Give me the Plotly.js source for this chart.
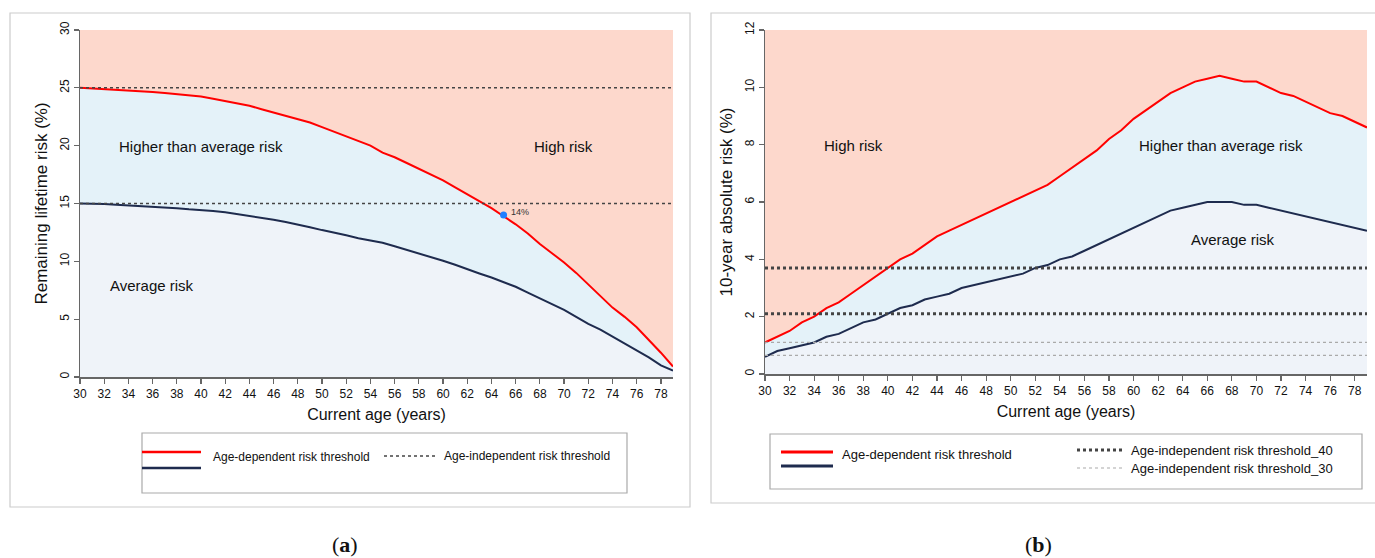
<!DOCTYPE html>
<html>
<head>
<meta charset="utf-8">
<script src="https://cdn.plot.ly/plotly-3.0.1.min.js"></script>
<style>html,body{margin:0;padding:0;background:#fff;}#chart{width:1375px;height:558px;}</style>
</head>
<body>
<div id="chart"></div>
<script>
// ---------- data ----------
const ages = [30,31,32,33,34,35,36,37,38,39,40,41,42,43,44,45,46,47,48,49,50,51,52,53,54,55,56,57,58,59,60,61,62,63,64,65,66,67,68,69,70,71,72,73,74,75,76,77,78,79];

// (a) remaining lifetime risk (%)
const lifetimeHigh = [25.0,24.95,24.9,24.85,24.8,24.7,24.65,24.55,24.45,24.35,
  24.25,24.05,23.85,23.65,23.45,23.15,22.85,22.55,22.3,22.0,
  21.6,21.2,20.8,20.4,20.0,19.4,19.0,18.5,18.0,17.5,
  17.0,16.4,15.8,15.2,14.6,13.9,13.2,12.4,11.5,10.7,
  9.9,9.0,8.0,7.0,6.0,5.2,4.3,3.2,2.1,0.9];
const lifetimeAvg = [15.0,15.0,14.95,14.9,14.85,14.8,14.75,14.7,14.6,14.5,
  14.45,14.35,14.25,14.1,13.95,13.8,13.6,13.4,13.2,12.95,
  12.7,12.5,12.25,12.0,11.8,11.6,11.3,11.0,10.7,10.35,
  10.05,9.7,9.3,8.95,8.6,8.2,7.8,7.3,6.8,6.3,
  5.8,5.2,4.6,4.1,3.5,2.9,2.3,1.7,1.0,0.55];
const lifetimeThresholds = [25, 15];
const markerAge = [65];
const markerRisk = [14];
const markerLabel = ['14%'];

// (b) 10-year absolute risk (%)
const tenYearHigh = [1.1,1.3,1.5,1.8,2.0,2.3,2.5,2.8,3.1,3.4,
  3.7,4.0,4.2,4.5,4.8,5.0,5.2,5.4,5.6,5.8,
  6.0,6.2,6.4,6.6,6.9,7.2,7.5,7.8,8.2,8.5,
  8.9,9.2,9.5,9.8,10.0,10.2,10.3,10.4,10.3,10.2,
  10.2,10.0,9.8,9.7,9.5,9.3,9.1,9.0,8.8,8.6];
const tenYearAvg = [0.6,0.8,0.9,1.0,1.1,1.3,1.4,1.6,1.8,1.9,
  2.1,2.3,2.4,2.6,2.7,2.8,3.0,3.1,3.2,3.3,
  3.4,3.5,3.7,3.8,4.0,4.1,4.3,4.5,4.7,4.9,
  5.1,5.3,5.5,5.7,5.8,5.9,6.0,6.0,6.0,5.9,
  5.9,5.8,5.7,5.6,5.5,5.4,5.3,5.2,5.1,5.0];
const tenYearThresholds40 = [3.7, 2.1];
const tenYearThresholds30 = [1.1, 0.65];

// ticks
const ageTicks = [30,32,34,36,38,40,42,44,46,48,50,52,54,56,58,60,62,64,66,68,70,72,74,76,78];
const lifetimeTicks = [0,5,10,15,20,25,30];
const tenYearTicks = [0,2,4,6,8,10,12];

// labels
const regionLabels = ['High risk', 'Higher than average risk', 'Average risk'];
const legendLabels = ['Age-dependent risk threshold', 'Age-independent risk threshold',
  'Age-independent risk threshold_40', 'Age-independent risk threshold_30'];
const axisTitles = {x: 'Current age (years)', yA: 'Remaining lifetime risk (%)', yB: '10-year absolute risk (%)'};

// ---------- style ----------
const W = 1375, H = 558;
const C = {
  salmon: 'rgb(253,216,204)', blue: 'rgb(228,242,249)', base: 'rgb(239,243,249)',
  red: '#ff0000', navy: '#1e2b4e', dark: '#444444', grey: '#aaaaaa', axis: '#666666'
};
const FONT = 'Liberation Sans, Arial, Helvetica, sans-serif';
const px = x => x / W;
const py = y => 1 - y / H;

function lineTrace(x, y, color, xa, ya) {
  return {x, y, xaxis: xa, yaxis: ya, mode: 'lines', type: 'scatter',
    line: {color, width: 2}, hoverinfo: 'skip', showlegend: false};
}
function fillTrace(x, y, fill, fillcolor, xa, ya) {
  return {x, y, xaxis: xa, yaxis: ya, mode: 'lines', type: 'scatter', fill, fillcolor,
    line: {width: 0}, hoverinfo: 'skip', showlegend: false};
}

const traces = [
  fillTrace(ages, lifetimeAvg, 'tozeroy', C.base, 'x', 'y'),
  fillTrace(ages, lifetimeHigh, 'tonexty', C.blue, 'x', 'y'),
  fillTrace(ages, tenYearAvg, 'tozeroy', C.base, 'x2', 'y2'),
  fillTrace(ages, tenYearHigh, 'tonexty', C.blue, 'x2', 'y2'),
];

const shapes = [];
// threshold lines
lifetimeThresholds.forEach(v => shapes.push({type: 'line', xref: 'x domain', yref: 'y', x0: 0, x1: 1, y0: v, y1: v,
  line: {color: C.dark, width: 1.5, dash: 'dot'}, layer: 'above'}));
tenYearThresholds40.forEach(v => shapes.push({type: 'line', xref: 'x2 domain', yref: 'y2', x0: 0, x1: 1, y0: v, y1: v,
  line: {color: C.dark, width: 3, dash: 'dot'}, layer: 'above'}));
tenYearThresholds30.forEach(v => shapes.push({type: 'line', xref: 'x2 domain', yref: 'y2', x0: 0, x1: 1, y0: v, y1: v,
  line: {color: C.grey, width: 1.2, dash: 'dot'}, layer: 'above'}));

traces.push(lineTrace(ages, lifetimeAvg, C.navy, 'x', 'y'));
traces.push(lineTrace(ages, lifetimeHigh, C.red, 'x', 'y'));
traces.push(lineTrace(ages, tenYearAvg, C.navy, 'x2', 'y2'));
traces.push(lineTrace(ages, tenYearHigh, C.red, 'x2', 'y2'));
traces.push({x: markerAge, y: markerRisk, xaxis: 'x', yaxis: 'y', mode: 'markers', type: 'scatter',
  marker: {color: '#1f7fff', size: 7}, hoverinfo: 'skip', showlegend: false});

// panel frames and legend boxes (paper)
function rect(x0, y0, x1, y1, color) {
  shapes.push({type: 'rect', xref: 'paper', yref: 'paper', x0: px(x0), x1: px(x1), y0: py(y1), y1: py(y0),
    line: {color, width: 1.2}, fillcolor: 'rgba(0,0,0,0)', layer: 'below'});
}
rect(10, 13, 690, 507, '#cccccc');
rect(711, 13, 1390, 503, '#cccccc');
rect(142, 433, 627, 493, '#aaaaaa');
rect(770, 434, 1362, 489, '#aaaaaa');

function seg(x0, x1, y, color, width, dash) {
  shapes.push({type: 'line', xref: 'paper', yref: 'paper', x0: px(x0), x1: px(x1), y0: py(y), y1: py(y),
    line: {color, width, dash: dash || 'solid'}});
}
// legend (a)
seg(142, 201, 452, C.red, 2.5);
seg(142, 201, 468, C.navy, 2.5);
seg(384, 438, 456, C.dark, 1.5, 'dot');
// legend (b)
seg(781, 833, 452, C.red, 3);
seg(781, 833, 466, C.navy, 3);
seg(1077, 1122, 450, C.dark, 3, 'dot');
seg(1077, 1122, 468, C.grey, 1.2, 'dot');

const annotations = [];
function txt(text, x, y, size, anchor, extra) {
  annotations.push(Object.assign({text, xref: 'paper', yref: 'paper', x: px(x), y: py(y), xanchor: anchor || 'center',
    yanchor: 'middle', showarrow: false, font: {family: FONT, size, color: '#111'}}, extra || {}));
}
// region labels
txt(regionLabels[1], 201, 146, 15);
txt(regionLabels[0], 563, 146, 15);
txt(regionLabels[2], 152, 285, 15);
txt(regionLabels[0], 853, 145, 15);
txt(regionLabels[1], 1221, 145, 15);
txt(regionLabels[2], 1233, 239, 15);
// legend text
txt(legendLabels[0], 211, 457, 12, 'left');
txt(legendLabels[1], 442, 456, 12, 'left');
txt(legendLabels[0], 840, 454, 13, 'left');
txt(legendLabels[2], 1129, 450, 13, 'left');
txt(legendLabels[3], 1129, 468, 13, 'left');
// captions
annotations.push({text: '(<b>a</b>)', xref: 'paper', yref: 'paper', x: px(345), y: py(544), xanchor: 'center', yanchor: 'middle',
  showarrow: false, font: {family: 'Liberation Serif, DejaVu Serif, serif', size: 22, color: '#111'}});
annotations.push({text: '(<b>b</b>)', xref: 'paper', yref: 'paper', x: px(1038), y: py(544), xanchor: 'center', yanchor: 'middle',
  showarrow: false, font: {family: 'Liberation Serif, DejaVu Serif, serif', size: 22, color: '#111'}});
// point label
annotations.push({text: markerLabel[0], xref: 'x', yref: 'y', x: markerAge[0], y: markerRisk[0], xanchor: 'left', yanchor: 'middle',
  xshift: 5, yshift: 3, showarrow: false, font: {family: FONT, size: 9, color: '#333'}});

function xAxis(domain, anchor) {
  return {domain, anchor, range: [30, 79], tickvals: ageTicks, ticktext: ageTicks.map(String),
    showgrid: false, zeroline: false, showline: true, linecolor: C.axis, linewidth: 1.5,
    ticks: 'outside', ticklen: 5, tickwidth: 1.2, tickcolor: C.axis,
    tickfont: {family: FONT, size: 12, color: '#111'},
    title: {text: axisTitles.x, font: {family: FONT, size: 16, color: '#111'}, standoff: 9},
    automargin: false, fixedrange: true};
}
function yAxis(domain, anchor, range, ticks, title) {
  return {domain, anchor, range, tickvals: ticks, ticktext: ticks.map(String), tickangle: -90,
    showgrid: false, zeroline: false, showline: true, linecolor: C.axis, linewidth: 1.5,
    ticks: 'outside', ticklen: 5, tickwidth: 1.2, tickcolor: C.axis,
    tickfont: {family: FONT, size: 12, color: '#111'},
    title: {text: title, font: {family: FONT, size: 17, color: '#111'}, standoff: 6},
    automargin: false, fixedrange: true};
}

const layout = {
  width: W, height: H, margin: {l: 0, r: 0, t: 0, b: 0},
  paper_bgcolor: '#ffffff', plot_bgcolor: C.salmon, showlegend: false,
  font: {family: FONT},
  xaxis: xAxis([px(80), px(673)], 'y'),
  yaxis: yAxis([py(377), py(30)], 'x', [0, 30], lifetimeTicks, axisTitles.yA),
  xaxis2: xAxis([px(765), px(1367)], 'y2'),
  yaxis2: yAxis([py(374), py(30)], 'x2', [0, 12], tenYearTicks, axisTitles.yB),
  shapes, annotations
};

Plotly.newPlot('chart', traces, layout, {displayModeBar: false, staticPlot: true});
</script>
</body>
</html>
